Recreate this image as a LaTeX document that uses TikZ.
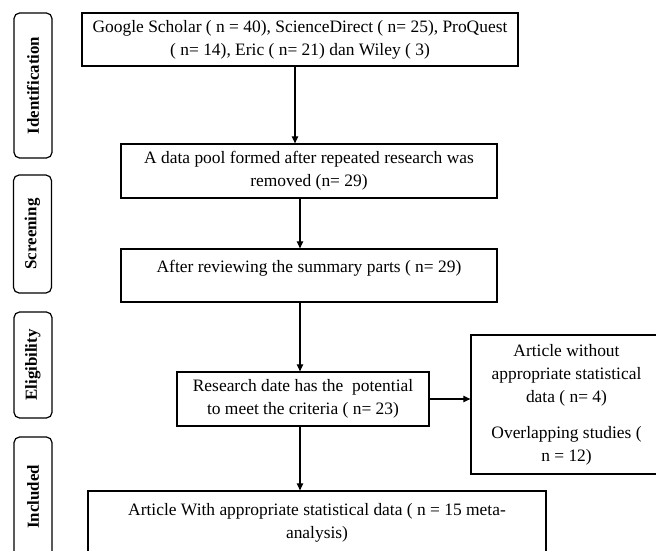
\documentclass[tikz,border=0pt]{standalone}
\usepackage{fontspec}
\setmainfont{Liberation Serif}
\usetikzlibrary{arrows.meta}
\def\flowtext{\fontsize{12.4}{16.4}\selectfont}
\def\stagetext{\fontsize{12}{13}\selectfont\bfseries}
\tikzset{
  flowbox/.style={draw, line width=0.85pt, align=center, inner sep=0pt, font=\flowtext},
  stagebox/.style={draw, line width=0.85pt, rounded corners=4pt, minimum width=0.95cm, font=\stagetext},
  arr/.style={-{Triangle[length=5pt,width=4.5pt]}, line width=0.85pt}
}

\begin{document}
\begin{tikzpicture}[x=0.025cm,y=-0.025cm]
\useasboundingbox (0,0) rectangle (656,551);
\clip (0,0) rectangle (656,551);
% stages
\node (S1) at (33,85.5) [stagebox, minimum height=3.625cm] {\rotatebox{90}{Identification}};
\node (S2) at (32.5,234) [stagebox, minimum height=2.95cm] {\rotatebox{90}{Screening}};
\node (S3) at (33,365) [stagebox, minimum height=2.65cm] {\rotatebox{90}{Eligibility}};
\node (S4) at (33,497) [stagebox, minimum height=3cm] {\rotatebox{90}{Included}};
% flow
\node (A) at (300,39.5) [flowbox, minimum width=10.9cm, minimum height=1.325cm] {Google Scholar ( n = 40), ScienceDirect ( n= 25), ProQuest\\( n= 14), Eric ( n= 21) dan Wiley ( 3)};
\node (B) at (309,171) [flowbox, minimum width=9.4cm, minimum height=1.35cm] {A data pool formed after repeated research was\\removed (n= 29)};
\node (C) at (309,275.5) [flowbox, minimum width=9.4cm, minimum height=1.325cm] {\raisebox{5.3pt}[\height][\depth]{After reviewing the summary parts ( n= 29)}};
\node (D) at (303,399) [flowbox, minimum width=6.3cm, minimum height=1.35cm] {Research date has the\ \ potential\\to meet the criteria ( n= 23)};
\node (E) at (566.5,404.5) [flowbox, minimum width=4.775cm, minimum height=3.475cm] {Article without\\appropriate statistical\\data ( n= 4)\\[9pt]Overlapping studies (\\n = 12)};
\node (F) at (317,522.5) [flowbox, minimum width=11.45cm, minimum height=1.575cm] {Article With appropriate statistical data ( n = 15 meta-\\analysis)};
\coordinate (a1) at ([xshift=-0.125cm]A.south);
\coordinate (b1) at ([xshift=-0.225cm]B.south);
\coordinate (c1) at ([xshift=-0.225cm]C.south);
\coordinate (d1) at ([xshift=-0.075cm]D.south);
\draw[arr] (a1) -- (a1 |- B.north);
\draw[arr] (b1) -- (b1 |- C.north);
\draw[arr] (c1) -- (c1 |- D.north);
\draw[arr] (d1) -- (d1 |- F.north);
\draw[arr] (D.east) -- (D.east -| E.west);
\end{tikzpicture}
\end{document}
